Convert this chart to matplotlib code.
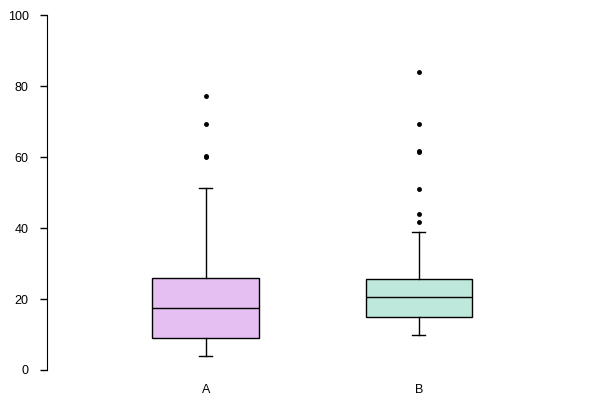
import matplotlib
matplotlib.use("Agg")
import matplotlib.pyplot as plt

plt.rcParams['font.family'] = ['Liberation Sans', 'DejaVu Sans']

categories = ["A", "B"]
q1 = [9.0, 14.8]
median = [17.5, 20.7]
q3 = [25.9, 25.5]
whisker_low = [3.9, 10.0]
whisker_high = [51.3, 38.8]
outliers = [
    [77.2, 69.3, 60.1, 60.4],
    [83.9, 69.2, 61.3, 61.6, 50.9, 43.9, 41.6],
]
colors = ["#e5bef2", "#bfe8dc"]

stats = []
for i, c in enumerate(categories):
    stats.append(dict(label=c, q1=q1[i], med=median[i], q3=q3[i],
                      whislo=whisker_low[i], whishi=whisker_high[i],
                      fliers=outliers[i]))

fig = plt.figure(figsize=(6, 4), dpi=100)
ax = fig.add_axes([0.078, 0.075, 0.885, 0.8875])

bp = ax.bxp(stats, positions=[1, 2], widths=0.5, patch_artist=True,
            showfliers=True,
            boxprops=dict(edgecolor='black', linewidth=1.0),
            medianprops=dict(color='black', linewidth=1.0),
            whiskerprops=dict(color='black', linewidth=1.0),
            capprops=dict(color='black', linewidth=1.0),
            capwidths=0.06,
            flierprops=dict(marker='o', markerfacecolor='black',
                            markeredgecolor='black', markersize=2.5))
for patch, col in zip(bp['boxes'], colors):
    patch.set_facecolor(col)

ax.set_xlim(0.254, 2.746)
ax.set_ylim(0, 100)
ax.set_yticks([0, 20, 40, 60, 80, 100])
ax.spines['top'].set_visible(False)
ax.spines['right'].set_visible(False)
ax.spines['bottom'].set_visible(False)
ax.tick_params(axis='y', direction='out', length=5, width=1, labelsize=9, pad=8)
ax.tick_params(axis='x', length=0, labelsize=9, pad=10)

fig.savefig("out.png", dpi=100)
